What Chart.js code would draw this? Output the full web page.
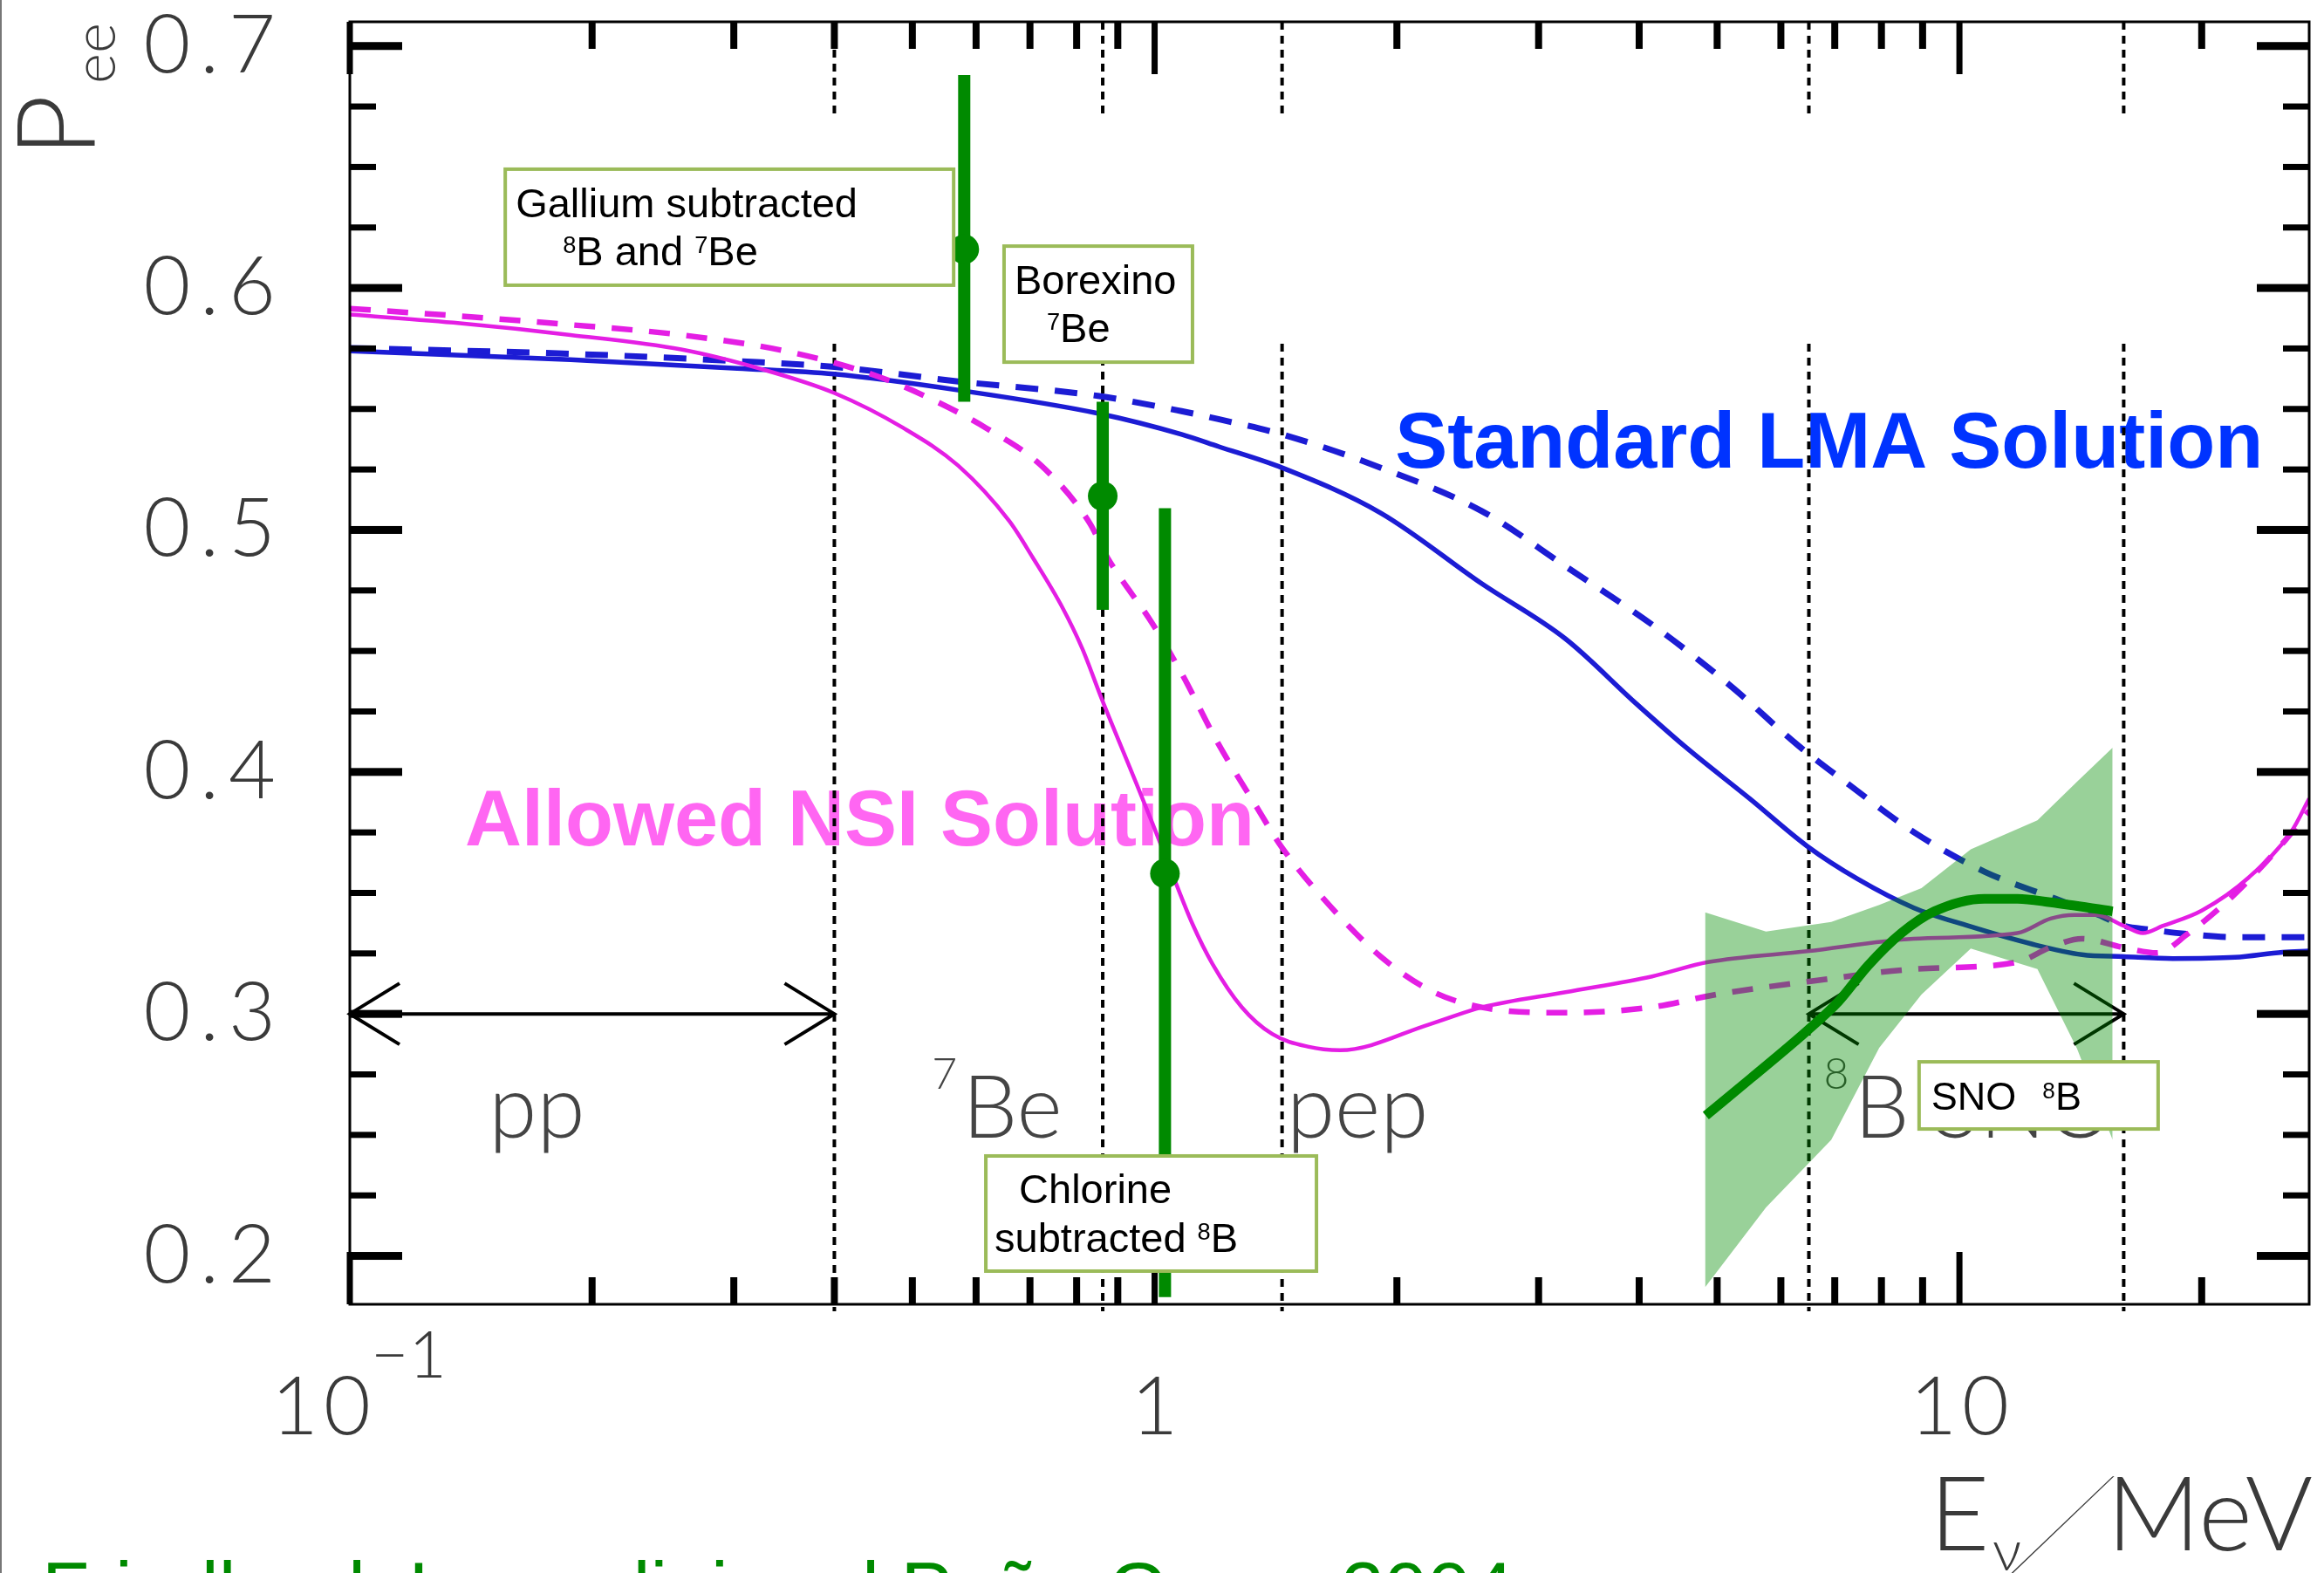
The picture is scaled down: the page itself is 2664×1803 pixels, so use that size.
<!DOCTYPE html>
<html lang="en">
<head>
<meta charset="utf-8">
<title>Solar neutrino survival probability P_ee</title>
<script src="https://cdn.jsdelivr.net/npm/chart.js@4.4.1/dist/chart.umd.min.js"></script>
<style>
  html, body { margin: 0; padding: 0; background: #ffffff; }
  canvas { display: block; }
</style>
</head>
<body>
<canvas id="pee" width="2664" height="1803"></canvas>
<script>
// x: neutrino energy E_nu (MeV), y: electron-neutrino survival probability P_ee

// Standard LMA solution (solid and dashed)
const lmaSolidEnergy = [0.1, 0.188, 0.303, 0.40, 0.57, 0.85, 1.08, 1.2, 1.44, 1.91, 2.55, 3.24, 3.97, 4.56, 5.5, 6.47, 7.47, 8.77, 10.25, 12.3, 14.2, 16.0, 18.4, 22, 25.2, 27.2];
const lmaSolidPee    = [0.574, 0.5704, 0.5668, 0.5644, 0.5578, 0.5482, 0.5395, 0.5345, 0.5257, 0.507, 0.4778, 0.455, 0.4281, 0.4105, 0.3887, 0.3693, 0.3558, 0.3439, 0.3364, 0.3289, 0.3245, 0.3237, 0.3229, 0.3234, 0.3255, 0.326];
const lmaDashedEnergy = [0.1, 0.188, 0.303, 0.40, 0.57, 0.85, 1.08, 1.2, 1.44, 1.91, 2.55, 3.24, 4.25, 5.22, 6.3, 7.3, 8.77, 10.74, 12.98, 14.9, 16.0, 17.2, 19.2, 22, 27.2];
const lmaDashedPee    = [0.5752, 0.5728, 0.5698, 0.5674, 0.5614, 0.5554, 0.5491, 0.5458, 0.5395, 0.5257, 0.5078, 0.485, 0.4584, 0.435, 0.411, 0.3946, 0.3752, 0.3588, 0.3483, 0.3409, 0.3364, 0.3349, 0.333, 0.3317, 0.3317];

// Allowed NSI solution (solid and dashed)
const nsiSolidEnergy = [0.1, 0.137, 0.188, 0.258, 0.327, 0.40, 0.487, 0.57, 0.66, 0.705, 0.768, 0.813, 0.86, 0.939, 0.994, 1.052, 1.114, 1.18, 1.284, 1.40, 1.55, 1.7, 2.2, 2.55, 3.24, 4.15, 4.87, 6.47, 8.77, 11.8, 12.98, 13.9, 14.8, 16.0, 16.9, 17.9, 20, 22.9, 25.9, 27.2];
const nsiSolidPee    = [0.589, 0.5854, 0.5806, 0.5746, 0.5662, 0.5566, 0.5422, 0.5266, 0.5036, 0.4888, 0.468, 0.451, 0.430, 0.399, 0.3787, 0.3578, 0.3373, 0.3207, 0.3027, 0.2917, 0.2865, 0.285, 0.2958, 0.3027, 0.309, 0.3155, 0.3214, 0.3259, 0.3311, 0.3334, 0.3394, 0.3409, 0.3409, 0.3364, 0.3334, 0.3364, 0.3427, 0.3565, 0.3758, 0.389];
const nsiDashedEnergy = [0.1, 0.137, 0.188, 0.258, 0.354, 0.45, 0.527, 0.617, 0.723, 0.83, 0.873, 0.994, 1.081, 1.194, 1.339, 1.438, 1.658, 1.914, 2.207, 2.55, 3.24, 4.15, 5.0, 6.47, 8.77, 11.8, 12.98, 14.2, 16.0, 17.6, 19.2, 22, 25.2, 27.2];
const nsiDashedPee    = [0.5915, 0.5884, 0.5848, 0.5806, 0.5734, 0.5638, 0.5542, 0.5422, 0.5266, 0.503, 0.4888, 0.4612, 0.4406, 0.4129, 0.3855, 0.369, 0.344, 0.3234, 0.3095, 0.3027, 0.3005, 0.3028, 0.3081, 0.3133, 0.3185, 0.3214, 0.3275, 0.3311, 0.3274, 0.3252, 0.333, 0.3496, 0.3704, 0.384];

// SNO 8B: best-fit curve and allowed band
const snoEnergy = [4.84, 5.52, 6.47, 7.07, 7.70, 8.47, 9.31, 10.74, 11.81, 12.98, 15.5];
const snoPee    = [0.258, 0.2737, 0.2931, 0.305, 0.32, 0.3334, 0.3424, 0.3476, 0.3476, 0.3461, 0.3424];
const snoBandEnergy = [4.83, 5.75, 6.93, 7.95, 8.97, 10.33, 12.5, 14.0, 15.5];
const snoBandHigh   = [0.342, 0.334, 0.338, 0.345, 0.352, 0.368, 0.380, 0.396, 0.410];
const snoBandLow    = [0.187, 0.220, 0.248, 0.286, 0.308, 0.327, 0.3185, 0.2856, 0.248];

// Gallium, Borexino and Chlorine points with their error bars
const expNames  = ['Gallium', 'Borexino', 'Chlorine'];
const expEnergy = [0.58, 0.862, 1.03];
const expPee    = [0.616, 0.514, 0.358];
const expLow    = [0.553, 0.467, 0.183];
const expHigh   = [0.688, 0.553, 0.509];

// Spectrum boundaries (dotted lines) and energy windows (arrows)
const boundaryEnergy = [0.4, 0.862, 1.44, 6.5, 16];
const ppWindow = [0.1, 0.4];
const b8Window = [6.5, 16];
const windowPee = 0.3;

// Axis ticks and labels
const yTickValues = [0.2, 0.3, 0.4, 0.5, 0.6, 0.7];
const xMajorTicks = [0.1, 1, 10];
const xTickBase   = ['10', '1', '10'];
const xTickExp    = ['\u22121', '', ''];
const xMinorTicks = [0.2, 0.3, 0.4, 0.5, 0.6, 0.7, 0.8, 0.9, 2, 3, 4, 5, 6, 7, 8, 9, 20];

const pts = (xs, ys) => xs.map((x, i) => ({ x, y: ys[i] }));

const THIN = "'Lato', 'DejaVu Sans', sans-serif";
const ARIAL = "Arial, 'Liberation Sans', sans-serif";
const BLUE = '#1c1cd4';
const MAGENTA = '#e41ee4';
const GREEN = '#008a00';
const AXIS_TEXT = '#3a3a3a';

// draws a run of text pieces, some raised as superscripts
function drawRuns(ctx, x, y, runs, size, family, weight, supScale, supRise) {
  let cx = x;
  for (const r of runs) {
    const s = r.sup ? size * supScale : size;
    ctx.font = `${weight} ${s}px ${family}`;
    ctx.fillText(r.t, cx, r.sup ? y - size * supRise : y);
    cx += ctx.measureText(r.t).width + (r.gap || 0);
  }
}

const noteBoxes = [
  { at: [0.156, 0.6491], w: 514, h: 133, size: 47, lines: [
      { dx: 12, dy: 55, runs: [{ t: 'Gallium subtracted' }] },
      { dx: 66, dy: 110, runs: [{ t: '8', sup: true }, { t: 'B and ' }, { t: '7', sup: true }, { t: 'Be' }] } ] },
  { at: [0.650, 0.6173], w: 216, h: 133, size: 47, lines: [
      { dx: 12, dy: 55, runs: [{ t: 'Borexino' }] },
      { dx: 49, dy: 110, runs: [{ t: '7', sup: true }, { t: 'Be' }] } ] },
  { at: [0.617, 0.2413], w: 379, h: 132, size: 47, lines: [
      { dx: 38, dy: 54, runs: [{ t: 'Chlorine' }] },
      { dx: 10, dy: 110, runs: [{ t: 'subtracted ' }, { t: '8', sup: true }, { t: 'B' }] } ] },
  { at: [8.91, 0.2802], w: 274, h: 77, size: 45, lines: [
      { dx: 14, dy: 55, runs: [{ t: 'SNO', gap: 30 }, { t: '8', sup: true }, { t: 'B' }] } ] }
];

const sourceLabels = [
  { at: [0.1488, 0.2489], runs: [{ t: 'pp' }] },
  { at: [0.5287, 0.2489], runs: [{ t: '7', sup: true, gap: 6 }, { t: 'Be' }] },
  { at: [1.459, 0.2489], runs: [{ t: 'pep' }] },
  { at: [6.78, 0.2489], runs: [{ t: '8', sup: true, gap: 6 }, { t: 'B SNO' }] }
];

// widen the thin tick numerals drawn by the y scale
const spacing = {
  id: 'spacing',
  beforeDraw(chart) { chart.ctx.letterSpacing = '11px'; },
  beforeDatasetsDraw(chart) { chart.ctx.letterSpacing = '0px'; }
};

const backdrop = {
  id: 'backdrop',
  beforeDatasetsDraw(chart) {
    const { ctx, chartArea: a, scales: { x, y } } = chart;
    ctx.save();
    ctx.letterSpacing = '0px';
    ctx.textBaseline = 'alphabetic';
    ctx.textAlign = 'left';
    // solution names
    ctx.font = `bold 90px ${ARIAL}`;
    ctx.fillStyle = '#0033ff';
    ctx.fillText('Standard LMA Solution', x.getPixelForValue(1.99), y.getPixelForValue(0.5258));
    ctx.fillStyle = '#ff66f2';
    ctx.fillText('Allowed NSI Solution', x.getPixelForValue(0.139), y.getPixelForValue(0.3697));
    // source names
    ctx.fillStyle = '#444';
    for (const l of sourceLabels) {
      drawRuns(ctx, x.getPixelForValue(l.at[0]), y.getPixelForValue(l.at[1]), l.runs, 100, THIN, 300, 0.5, 0.56);
    }
    // dotted source boundaries (interrupted near the top)
    ctx.strokeStyle = '#000';
    ctx.lineWidth = 4;
    ctx.setLineDash([9, 7]);
    for (const e of boundaryEnergy) {
      const X = x.getPixelForValue(e);
      const runs = [[a.top, y.getPixelForValue(0.6707)], [y.getPixelForValue(0.577), a.bottom + 8]];
      for (const [y0, y1] of runs) {
        ctx.beginPath(); ctx.moveTo(X, y0); ctx.lineTo(X, y1); ctx.stroke();
      }
    }
    // energy windows
    ctx.setLineDash([]);
    ctx.lineWidth = 4;
    ctx.lineJoin = 'miter';
    for (const win of [ppWindow, b8Window]) {
      const x0 = x.getPixelForValue(win[0]), x1 = x.getPixelForValue(win[1]);
      const Y = y.getPixelForValue(windowPee);
      ctx.beginPath();
      ctx.moveTo(x0, Y); ctx.lineTo(x1, Y);
      ctx.moveTo(x0 + 57, Y - 35); ctx.lineTo(x0, Y); ctx.lineTo(x0 + 57, Y + 35);
      ctx.moveTo(x1 - 57, Y - 35); ctx.lineTo(x1, Y); ctx.lineTo(x1 - 57, Y + 35);
      ctx.stroke();
    }
    ctx.restore();
  }
};

const frame = {
  id: 'frame',
  afterDatasetsDraw(chart) {
    const { ctx, chartArea: a, scales: { x, y } } = chart;
    ctx.save();
    ctx.strokeStyle = '#000';
    ctx.lineWidth = 3;
    ctx.setLineDash([]);
    ctx.strokeRect(a.left, a.top, a.right - a.left, a.bottom - a.top);
    ctx.fillStyle = '#000';
    for (const v of xMajorTicks) {
      const X = x.getPixelForValue(v);
      ctx.fillRect(X - 3.5, a.top, 7, 60);
      ctx.fillRect(X - 3.5, a.bottom - 60, 7, 60);
    }
    for (const v of xMinorTicks) {
      const X = x.getPixelForValue(v);
      ctx.fillRect(X - 4, a.top, 8, 31);
      ctx.fillRect(X - 4, a.bottom - 31, 8, 31);
    }
    for (let k = 0; k <= 20; k++) {
      const v = 0.2 + k * 0.025;
      const Y = y.getPixelForValue(v);
      const major = k % 4 === 0;
      const len = major ? 60 : 30, th = major ? 9 : 7;
      ctx.fillRect(a.left, Y - th / 2, len, th);
      ctx.fillRect(a.right - len, Y - th / 2, len, th);
    }
    ctx.restore();
  },
  afterDraw(chart) {
    const { ctx, chartArea: a, scales: { x, y } } = chart;
    ctx.save();
    ctx.letterSpacing = '0px';
    ctx.textBaseline = 'alphabetic';
    // x tick labels
    ctx.fillStyle = AXIS_TEXT;
    xMajorTicks.forEach((v, i) => {
      const X = x.getPixelForValue(v);
      const base = a.bottom + 149;
      ctx.font = `300 93px ${THIN}`;
      ctx.letterSpacing = '6px';
      if (xTickExp[i]) {
        ctx.textAlign = 'right';
        ctx.fillText(xTickBase[i], X + 30, base);
        ctx.textAlign = 'left';
        ctx.letterSpacing = '0px';
        ctx.font = `300 75px ${THIN}`;
        ctx.fillText(xTickExp[i], X + 24, base - 65);
      } else {
        ctx.textAlign = 'center';
        ctx.fillText(xTickBase[i], X + 3, base);
      }
      ctx.letterSpacing = '0px';
    });
    ctx.textAlign = 'left';
    // axis titles
    ctx.font = `300 118px ${THIN}`;
    ctx.fillText('E', 2212, 1777);
    ctx.font = `300 66px ${THIN}`;
    ctx.fillText('\u03bd', 2284, 1800);
    ctx.save();
    ctx.translate(2300, 1800);
    ctx.transform(1, 0, -0.62, 1, 0, 0);
    ctx.font = `100 150px ${THIN}`;
    ctx.fillText('/', 0, 0);
    ctx.restore();
    ctx.font = `300 118px ${THIN}`;
    ctx.textAlign = 'right';
    ctx.fillText('MeV', a.right + 4, 1777);
    ctx.textAlign = 'left';
    ctx.save();
    ctx.translate(109, 180);
    ctx.rotate(-Math.PI / 2);
    ctx.font = `300 124px ${THIN}`;
    ctx.fillText('P', 0, 0);
    ctx.font = `300 67px ${THIN}`;
    ctx.fillText('ee', 84, 23);
    ctx.restore();
    // note boxes
    for (const b of noteBoxes) {
      const bx = x.getPixelForValue(b.at[0]), by = y.getPixelForValue(b.at[1]);
      ctx.fillStyle = '#fff';
      ctx.fillRect(bx, by, b.w, b.h);
      ctx.strokeStyle = '#9bbb59';
      ctx.lineWidth = 4;
      ctx.strokeRect(bx, by, b.w, b.h);
      ctx.fillStyle = '#000';
      for (const ln of b.lines) {
        drawRuns(ctx, bx + ln.dx, by + ln.dy, ln.runs, b.size, ARIAL, 'normal', 0.58, 0.3);
      }
    }
    // citation
    ctx.fillStyle = GREEN;
    ctx.font = `89px ${ARIAL}`;
    ctx.fillText('Friedland, Lunardini and Pe\u00f1a-Garay 2004', 48, 1853);
    // page edge
    ctx.fillStyle = '#777';
    ctx.fillRect(0, 0, 2, 1803);
    ctx.restore();
  }
};

const curve = (data, color, width, dash, order) => ({
  type: 'line', data, borderColor: color, borderWidth: width, borderDash: dash,
  pointRadius: 0, pointHoverRadius: 0, fill: false, cubicInterpolationMode: 'monotone', order
});

const datasets = [
  { type: 'scatter', label: 'data points', data: pts(expEnergy, expPee), showLine: false,
    pointRadius: 17, pointHoverRadius: 17, backgroundColor: GREEN, borderWidth: 0, order: 0 },
  ...expNames.map((name, i) => ({
    type: 'line', label: name, data: [{ x: expEnergy[i], y: expLow[i] }, { x: expEnergy[i], y: expHigh[i] }],
    borderColor: GREEN, borderWidth: 14, borderCapStyle: 'butt', pointRadius: 0, pointHoverRadius: 0, fill: false, order: 1
  })),
  Object.assign(curve(pts(snoEnergy, snoPee), GREEN, 11, [], 2), { label: 'SNO 8B' }),
  { type: 'line', label: 'SNO band high', data: pts(snoBandEnergy, snoBandHigh), borderWidth: 0, pointRadius: 0,
    backgroundColor: 'rgba(0, 140, 0, 0.4)', fill: '+1', tension: 0, order: 3 },
  { type: 'line', label: 'SNO band low', data: pts(snoBandEnergy, snoBandLow), borderWidth: 0, pointRadius: 0,
    fill: false, tension: 0, order: 4 },
  Object.assign(curve(pts(nsiSolidEnergy, nsiSolidPee), MAGENTA, 4.5, [], 5), { label: 'NSI' }),
  Object.assign(curve(pts(nsiDashedEnergy, nsiDashedPee), MAGENTA, 6.5, [24, 19], 6), { label: 'NSI dashed' }),
  Object.assign(curve(pts(lmaSolidEnergy, lmaSolidPee), BLUE, 5.5, [], 7), { label: 'LMA' }),
  Object.assign(curve(pts(lmaDashedEnergy, lmaDashedPee), BLUE, 7, [26, 19], 8), { label: 'LMA dashed' })
];

new Chart(document.getElementById('pee').getContext('2d'), {
  type: 'line',
  data: { datasets },
  options: {
    responsive: false,
    animation: false,
    events: [],
    layout: { padding: { left: 0, right: 7, top: 25, bottom: 0 } },
    plugins: { legend: { display: false }, tooltip: { enabled: false } },
    scales: {
      x: {
        type: 'logarithmic', min: 0.1, max: 27.2, position: 'bottom',
        grid: { display: false, drawTicks: false }, border: { display: false },
        ticks: { display: false },
        afterFit: (s) => { s.height = 308; s.paddingLeft = 0; s.paddingRight = 0; }
      },
      y: {
        type: 'linear', min: 0.18, max: 0.71,
        grid: { display: false, drawTicks: false }, border: { display: false },
        ticks: {
          autoSkip: false, padding: 74, color: AXIS_TEXT,
          font: { family: THIN, size: 93, weight: 300 },
          callback: (v) => Number(v).toFixed(1)
        },
        afterBuildTicks: (s) => { s.ticks = yTickValues.map((v) => ({ value: v })); },
        afterFit: (s) => { s.width = 401; s.paddingTop = 0; s.paddingBottom = 0; }
      }
    }
  },
  plugins: [spacing, backdrop, frame]
});
</script>
</body>
</html>
